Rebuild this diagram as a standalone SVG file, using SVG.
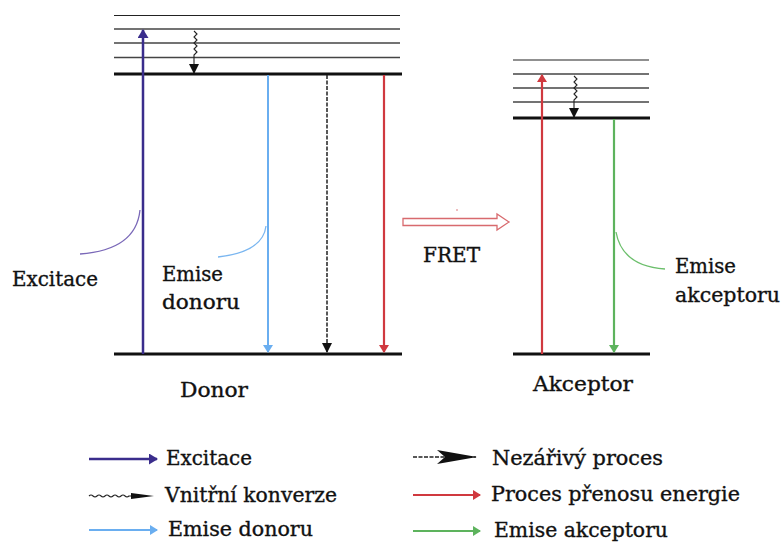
<svg xmlns="http://www.w3.org/2000/svg" width="782" height="542" viewBox="0 0 782 542">
<style>
.lvl{stroke:#444;stroke-width:1.5}
.top{stroke:#222;stroke-width:1.2}
.base{stroke:#111;stroke-width:3}
.t{font-family:"DejaVu Serif","Liberation Serif",serif;font-size:19.5px;fill:#111;stroke:#111;stroke-width:0.35}
.exc{stroke:#3a2d8c;stroke-width:2.5;fill:none}
.blu{stroke:#6aaef0;stroke-width:2;fill:none}
.red{stroke:#d0393f;stroke-width:2.2;fill:none}
.grn{stroke:#5db35d;stroke-width:2.2;fill:none}
.blk{stroke:#222;stroke-width:1.5;stroke-dasharray:4 1.5;fill:none}
.wav{stroke:#222;stroke-width:1.1;fill:none}
.lead{fill:none;stroke-width:1.3}
</style>
<defs>
<marker id="hExc" markerWidth="9" markerHeight="11" refX="8" refY="5.5" orient="auto" markerUnits="userSpaceOnUse"><path d="M0,0 L9,5.5 L0,11 z" fill="#3a2d8c"/></marker>
<marker id="hBlu" markerWidth="8" markerHeight="10" refX="7" refY="5" orient="auto" markerUnits="userSpaceOnUse"><path d="M0,0 L8,5 L0,10 z" fill="#6aaef0"/></marker>
<marker id="hRed" markerWidth="8" markerHeight="10" refX="7" refY="5" orient="auto" markerUnits="userSpaceOnUse"><path d="M0,0 L8,5 L0,10 z" fill="#d0393f"/></marker>
<marker id="hGrn" markerWidth="8" markerHeight="10" refX="7" refY="5" orient="auto" markerUnits="userSpaceOnUse"><path d="M0,0 L8,5 L0,10 z" fill="#5db35d"/></marker>
<marker id="hBlk" markerWidth="10" markerHeight="10" refX="9" refY="5" orient="auto" markerUnits="userSpaceOnUse"><path d="M0,0 L10,5 L0,10 z" fill="#111"/></marker>
<marker id="hBig" markerWidth="40" markerHeight="14" refX="39" refY="7" orient="auto" markerUnits="userSpaceOnUse"><path d="M0,0 L40,7 L0,14 L8,7 z" fill="#111"/></marker>
</defs>
<rect width="782" height="542" fill="#fff"/>

<g id="donor">
<line class="top" x1="114" y1="15.5" x2="400" y2="15.5"/>
<line class="lvl" x1="114" y1="29" x2="400" y2="29"/>
<line class="lvl" x1="114" y1="43" x2="400" y2="43"/>
<line class="lvl" x1="114" y1="57.5" x2="400" y2="57.5"/>
<line class="base" x1="114" y1="74" x2="402" y2="74"/>
<line class="base" x1="114" y1="354" x2="402" y2="354"/>
<text class="t" x="180" y="397" textLength="68" lengthAdjust="spacingAndGlyphs">Donor</text>
</g>

<g id="acceptor">
<line class="top" x1="513" y1="60" x2="649" y2="60"/>
<line class="lvl" x1="513" y1="74" x2="649" y2="74"/>
<line class="lvl" x1="513" y1="88" x2="649" y2="88"/>
<line class="lvl" x1="513" y1="102" x2="649" y2="102"/>
<line class="base" x1="513" y1="118" x2="650" y2="118"/>
<line class="base" x1="513" y1="354" x2="650" y2="354"/>
<text class="t" x="533" y="391" textLength="100" lengthAdjust="spacingAndGlyphs">Akceptor</text>
</g>

<g id="fret">
<path d="M403,218.5 L497,218.5 L497,214 L509,222 L497,230 L497,225.5 L403,225.5 z" fill="#fff" stroke="#d86a6e" stroke-width="1.3"/>
<circle cx="457" cy="210" r="0.8" fill="#d86a6e"/>
<text class="t" x="423" y="262" textLength="57" lengthAdjust="spacingAndGlyphs">FRET</text>
</g>

<g id="labels">
<text class="t" x="12" y="286" textLength="86" lengthAdjust="spacingAndGlyphs">Excitace</text>
<text class="t" x="162" y="281" textLength="61" lengthAdjust="spacingAndGlyphs">Emise</text>
<text class="t" x="162" y="309" textLength="78" lengthAdjust="spacingAndGlyphs">donoru</text>
<text class="t" x="675" y="273" textLength="61" lengthAdjust="spacingAndGlyphs">Emise</text>
<text class="t" x="675" y="302" textLength="105" lengthAdjust="spacingAndGlyphs">akceptoru</text>
</g>

<g id="connectors">
<line class="exc" x1="143" y1="354" x2="143" y2="30" marker-end="url(#hExc)"/>
<path class="wav" d="M194,31 l3,3 l-3,3 l3,3 l-3,3 l3,3 l-3,3 l3,3 l-3,3 l0,7"/>
<line x1="194" y1="62" x2="194" y2="73" stroke="#111" stroke-width="1" marker-end="url(#hBlk)"/>
<line class="blu" x1="268" y1="75" x2="268" y2="352" marker-end="url(#hBlu)"/>
<line class="blk" x1="327" y1="75" x2="327" y2="352" marker-end="url(#hBlk)"/>
<line class="red" x1="384" y1="75" x2="384" y2="352" marker-end="url(#hRed)"/>
<line class="red" x1="542" y1="354" x2="542" y2="75" marker-end="url(#hRed)"/>
<path class="wav" d="M574,76 l3,3 l-3,3 l3,3 l-3,3 l3,3 l-3,3 l3,3 l-3,3 l0,6"/>
<line x1="574" y1="106" x2="574" y2="117" stroke="#111" stroke-width="1" marker-end="url(#hBlk)"/>
<line class="grn" x1="614" y1="119" x2="614" y2="352" marker-end="url(#hGrn)"/>
<path class="lead" stroke="#7a68b8" d="M80,254 Q136,250 140,210"/>
<path class="lead" stroke="#7ab6f0" d="M218,257 Q263,252 266,226"/>
<path class="lead" stroke="#6cbf6c" d="M616,232 Q622,266 665,269"/>
</g>

<g id="legend">
<line class="exc" x1="89" y1="459" x2="157" y2="459" stroke-width="2" marker-end="url(#hExc)"/>
<text class="t" x="166" y="465" textLength="86" lengthAdjust="spacingAndGlyphs">Excitace</text>
<path class="wav" d="M89,496 q2,-2 4,0 t4,0 t4,0 t4,0 t4,0 t4,0 t4,0 t4,0 t4,0 t4,0 l2,0"/>
<path d="M131,493 L154,496 L131,499 z" fill="#111"/>
<text class="t" x="165" y="502" textLength="172" lengthAdjust="spacingAndGlyphs">Vnitřní konverze</text>
<line class="blu" x1="89" y1="530" x2="157" y2="530" marker-end="url(#hBlu)"/>
<text class="t" x="168" y="536" textLength="145" lengthAdjust="spacingAndGlyphs">Emise donoru</text>
<line class="blk" x1="413" y1="457" x2="476" y2="457" stroke-width="2" marker-end="url(#hBig)"/>
<text class="t" x="492" y="465" textLength="171" lengthAdjust="spacingAndGlyphs">Nezářivý proces</text>
<line class="red" x1="413" y1="495" x2="480" y2="495" marker-end="url(#hRed)"/>
<text class="t" x="491" y="501" textLength="249" lengthAdjust="spacingAndGlyphs">Proces přenosu energie</text>
<line class="grn" x1="413" y1="531" x2="480" y2="531" marker-end="url(#hGrn)"/>
<text class="t" x="494" y="537" textLength="174" lengthAdjust="spacingAndGlyphs">Emise akceptoru</text>
</g>
</svg>
